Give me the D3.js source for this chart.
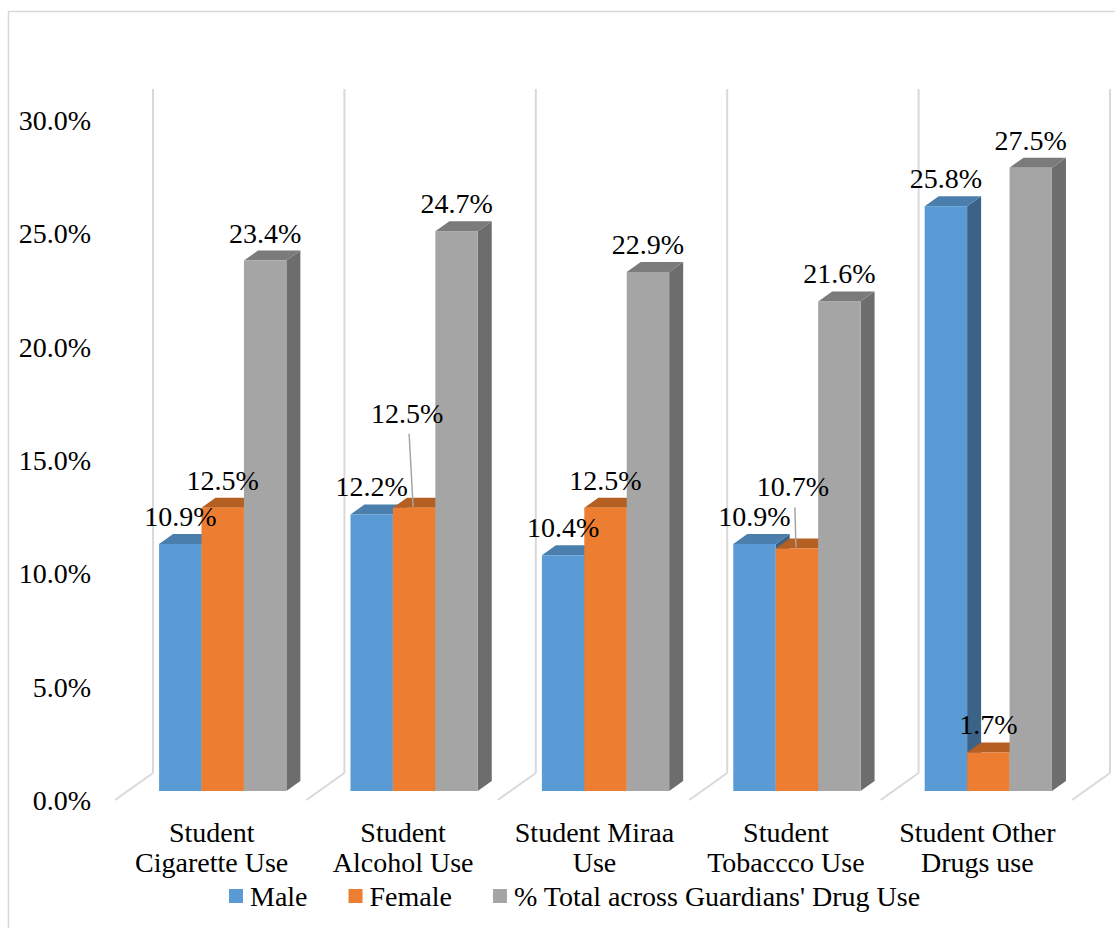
<!DOCTYPE html>
<html>
<head>
<meta charset="utf-8">
<script src="https://cdn.jsdelivr.net/npm/d3@7"></script>
<style>
  body { margin: 0; background: #fff; }
</style>
</head>
<body>
<div id="chart"></div>
<script>
// Chart data
const categories = [
  ["Student", "Cigarette Use"],
  ["Student", "Alcohol Use"],
  ["Student Miraa", "Use"],
  ["Student", "Tobaccco Use"],
  ["Student Other", "Drugs use"]
];
const seriesNames = ["Male", "Female", "% Total across Guardians' Drug Use"];
const male = [10.9, 12.2, 10.4, 10.9, 25.8];
const female = [12.5, 12.5, 12.5, 10.7, 1.7];
const total = [23.4, 24.7, 22.9, 21.6, 27.5];
const yTicks = [0, 5, 10, 15, 20, 25, 30];

const values = [male, female, total];

// Styling
const width = 1115, height = 928;
const fontSize = 28;
const fontFamily = "'Liberation Serif', Tinos, 'Times New Roman', Times, 'Noto Serif', 'DejaVu Serif', serif";
const front = ["#5B9BD5", "#ED7D31", "#A5A5A5"];
const topC = ["#4A7FAD", "#B65F22", "#7B7B7B"];
const sideC = ["#3B6388", "#A8561F", "#6D6D6D"];
const gridColor = "#D9D9D9";

// 3D offsets: whole floor depth and bar depth
const depthX = 38, depthY = 27;       // back wall offset
const barShiftX = 12.5, barShiftY = 9; // bar front plane
const barDX = 14, barDY = 10;          // bar thickness

// labels moved off the bar (with leader line): [series, category, dx, dy]
const labelNudge = [[1, 1, -7, -67], [1, 3, -4, -34]];

const svg = d3.select("#chart").append("svg")
  .attr("width", width)
  .attr("height", height)
  .style("font-family", fontFamily);

// outer border
svg.append("rect")
  .attr("x", 8.5).attr("y", 11.5)
  .attr("width", 1300).attr("height", 1200)
  .attr("fill", "none")
  .attr("stroke", gridColor)
  .attr("stroke-width", 1.5);

const x0 = d3.scaleBand()
  .domain(d3.range(categories.length))
  .range([115, 1072]);

const x1 = d3.scaleBand()
  .domain(d3.range(seriesNames.length))
  .range([x0.bandwidth() * 0.165, x0.bandwidth() * 0.83]);

const y = d3.scaleLinear()
  .domain([0, 30])
  .range([800, 120]);

// back wall verticals and floor diagonals at category edges
const edges = d3.range(categories.length + 1).map(i => 115 + i * x0.bandwidth());
svg.append("g").selectAll("line")
  .data(edges)
  .join("line")
  .attr("x1", d => d + depthX).attr("x2", d => d + depthX)
  .attr("y1", y(30) - depthY - 4).attr("y2", y(0) - depthY)
  .attr("stroke", gridColor).attr("stroke-width", 2);
svg.append("g").selectAll("line")
  .data(edges)
  .join("line")
  .attr("x1", d => d).attr("x2", d => d + depthX)
  .attr("y1", y(0)).attr("y2", y(0) - depthY)
  .attr("stroke", gridColor).attr("stroke-width", 2);

// y axis labels
svg.append("g").selectAll("text")
  .data(yTicks)
  .join("text")
  .attr("x", 91)
  .attr("y", d => y(d) + 10)
  .attr("text-anchor", "end")
  .attr("font-family", fontFamily)
  .attr("font-size", fontSize)
  .text(d => d.toFixed(1) + "%");

// bars
const bars = [];
categories.forEach((c, ci) => {
  seriesNames.forEach((s, si) => {
    const left = x0(ci) + x1(si) + barShiftX;
    const right = left + x1.bandwidth();
    const top = y(values[si][ci]) - barShiftY;
    const bottom = y(0) - barShiftY;
    bars.push({ ci, si, left, right, top, bottom, v: values[si][ci] });
  });
});

const g = svg.append("g");
bars.forEach(b => {
  // side face
  g.append("path")
    .attr("d", `M${b.right},${b.bottom}L${b.right + barDX},${b.bottom - barDY}L${b.right + barDX},${b.top - barDY}L${b.right},${b.top}Z`)
    .attr("fill", sideC[b.si]);
  // top face
  g.append("path")
    .attr("d", `M${b.left},${b.top}L${b.left + barDX},${b.top - barDY}L${b.right + barDX},${b.top - barDY}L${b.right},${b.top}Z`)
    .attr("fill", topC[b.si]);
  // front face
  g.append("rect")
    .attr("x", b.left).attr("y", b.top)
    .attr("width", b.right - b.left).attr("height", b.bottom - b.top)
    .attr("fill", front[b.si]);
});

// data labels
bars.forEach(b => {
  const n = labelNudge.find(d => d[0] === b.si && d[1] === b.ci);
  const cx = (b.left + b.right) / 2 + (n ? n[2] : 0);
  const by = b.top - 18 + (n ? n[3] : 0);
  if (n) {
    svg.append("line")
      .attr("x1", cx + 2).attr("y1", by + 11)
      .attr("x2", (b.left + b.right) / 2 - 1).attr("y2", b.top - 1)
      .attr("stroke", "#A5A5A5").attr("stroke-width", 1.5);
  }
  svg.append("text")
    .attr("x", cx)
    .attr("y", by)
    .attr("text-anchor", "middle")
    .attr("font-family", fontFamily)
    .attr("font-size", fontSize)
    .text(b.v.toFixed(1) + "%");
});

// category labels
const catG = svg.append("g");
categories.forEach((lines, ci) => {
  lines.forEach((t, li) => {
    catG.append("text")
      .attr("x", x0(ci) + x0.bandwidth() / 2 + 1)
      .attr("y", 842 + li * 30)
      .attr("text-anchor", "middle")
      .attr("font-family", fontFamily)
      .attr("font-size", fontSize)
      .text(t);
  });
});

// legend
const legend = svg.append("g");
let lx = 229;
seriesNames.forEach((s, i) => {
  legend.append("rect")
    .attr("x", lx).attr("y", 889)
    .attr("width", 14).attr("height", 14)
    .attr("fill", front[i]);
  const t = legend.append("text")
    .attr("x", lx + 21)
    .attr("y", 906)
    .attr("font-family", fontFamily)
    .attr("font-size", fontSize)
    .text(s);
  lx += 21 + t.node().getComputedTextLength() + 41;
});
</script>
</body>
</html>
